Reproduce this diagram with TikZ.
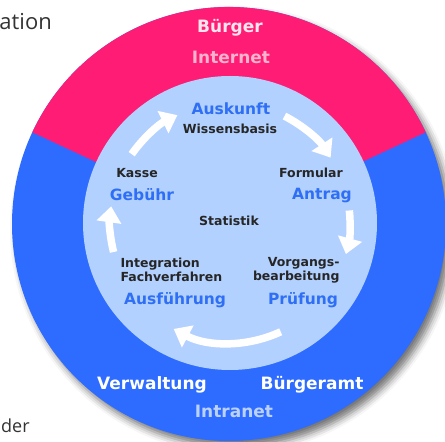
\documentclass[tikz,border=0pt]{standalone}
\usepackage{fontspec}
\setmainfont{DejaVu Sans}
\newfontfamily\pagefont{Open Sans}
\usetikzlibrary{calc,arrows.meta,shadows.blur}

\definecolor{ringpink}{HTML}{FF1C74}
\definecolor{ringblue}{HTML}{2E6BFF}
\definecolor{corelight}{HTML}{B3D1FF}
\definecolor{stepblue}{HTML}{2F6FF5}
\definecolor{paletext}{HTML}{FFB3CC}
\definecolor{palewhite}{HTML}{FFE6EE}
\definecolor{netblue}{HTML}{BBD2FF}

\begin{document}
\begin{tikzpicture}[x=1pt,y=1pt,
  ringlabel/.style={font=\bfseries\fontsize{17}{17}\selectfont, text=white},
  steplabel/.style={font=\bfseries\fontsize{15.5}{15.5}\selectfont, text=stepblue},
  toollabel/.style={font=\bfseries\fontsize{12.5}{14}\selectfont, text=black!85},
  flow/.style={white, line width=7.5pt, -{Triangle[width=24pt,length=16pt]}}]

\useasboundingbox (0,0) rectangle (445,442);

% Define the radii
\def\R{217}
\def\r{147}
\def\f{120}

% Centres of the rings
\coordinate (O) at (229,218);
\coordinate (I) at (230,219);

% Outer ring: blue with shadow, pink top sector
\fill[ringblue, blur shadow={shadow xshift=5pt, shadow yshift=-6pt, shadow blur radius=7pt, shadow opacity=55}] (O) circle (\R);
\fill[ringpink] (O) -- ++(25:\R) arc[start angle=25, end angle=155, radius=\R] -- cycle;

% Inner disc
\fill[corelight] (I) circle (\r);

% Start points of the arrows on the inner circle
\coordinate (f1) at ($(I)+(145:\f)$);
\coordinate (f2) at ($(I)+(63:\f)$);
\coordinate (f3) at ($(I)+(6:\f)$);
\coordinate (f4) at ($(I)+(-65:\f)$);
\coordinate (f5) at ($(I)+(194:\f)$);

% Arrows of the cycle
\draw[flow] (f1) arc[start angle=145, end angle=116, radius=\f];
\draw[flow] (f2) arc[start angle=63, end angle=33, radius=\f];
\draw[flow] (f3) arc[start angle=6, end angle=-15, radius=\f];
\draw[flow] (f4) arc[start angle=-65, end angle=-118, radius=\f];
\draw[flow] (f5) arc[start angle=194, end angle=172, radius=\f];

% Ring labels
\node[ringlabel, text=palewhite] (buerger) at (230,414) {Bürger};
\node[ringlabel, text=paletext] (internet) at (231,385) {Internet};
\node[ringlabel] (verwaltung) at (152,57) {Verwaltung};
\node[ringlabel] (buergeramt) at (312,57) {Bürgeramt};
\node[ringlabel, text=netblue] (intranet) at (234,31) {Intranet};

% Steps of the cycle
\node[steplabel] (auskunft) at (231,333) {Auskunft};
\node[toollabel] (wissen) at (230,313) {Wissensbasis};
\node[toollabel] (formular) at (311,269) {Formular};
\node[steplabel] (antrag) at (322,246) {Antrag};
\node[toollabel, anchor=east, align=right] (vorgang) at (343,172) {Vorgangs-\\bearbeitung};
\node[steplabel] (pruefung) at (303,142) {Prüfung};
\node[toollabel, anchor=west, align=left] (fach) at (117,172) {Integration\\Fachverfahren};
\node[steplabel] (ausfuehrung) at (175,142) {Ausführung};
\node[toollabel] (kasse) at (137,269) {Kasse};
\node[steplabel] (gebuehr) at (142,247) {Gebühr};
\node[toollabel] (statistik) at (229,221) {Statistik};

% Page text at the left edge
\node[anchor=base east, inner sep=0pt, text=black!80, font=\pagefont\fontsize{22}{22}\selectfont] (ation) at (52,412) {ation};
\node[anchor=base west, inner sep=0pt, text=black!80, font=\pagefont\fontsize{18}{18}\selectfont] (der) at (1,9) {der};

\end{tikzpicture}
\end{document}
